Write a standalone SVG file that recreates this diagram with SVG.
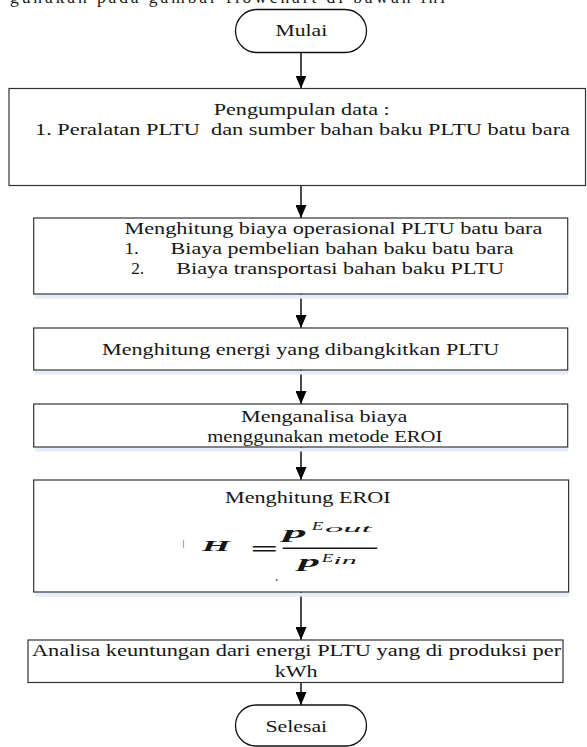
<svg xmlns="http://www.w3.org/2000/svg" width="587" height="747" viewBox="0 0 587 747">
  <defs>
    <marker id="arrow" viewBox="0 0 13 11" refX="13" refY="5.5" markerWidth="13" markerHeight="11" markerUnits="userSpaceOnUse" orient="auto">
      <path d="M0,0 L13,5.5 L0,11 z" fill="#000"/>
    </marker>
    <style>
      .box { fill: #fff; stroke: #333; stroke-width: 1.2; }
      .shadow { fill: #e4edf7; }
      .term { fill: #fff; stroke: #111; stroke-width: 1.3; }
      .t { font-family: "Liberation Serif", "Times New Roman", serif; font-size: 17.5px; fill: #161616; white-space: pre; }
      .m { font-family: "Liberation Serif", "Times New Roman", serif; font-style: italic; fill: #161616; }
      .conn { stroke: #000; stroke-width: 1.4; fill: none; marker-end: url(#arrow); }
    </style>
  </defs>
  <rect width="587" height="747" fill="#fff"/>

  <text class="t" x="10" y="3" font-size="20" fill="#333" textLength="435" lengthAdjust="spacing">gunakan pada gambar flowchart di bawah ini</text>

  <g id="connectors">
    <line class="conn" x1="301" y1="52.5" x2="301" y2="88.5"/>
    <line class="conn" x1="301" y1="185.5" x2="301" y2="218"/>
    <line class="conn" x1="301" y1="294" x2="301" y2="328"/>
    <line class="conn" x1="301" y1="370" x2="301" y2="404"/>
    <line class="conn" x1="301" y1="447" x2="301" y2="480"/>
    <line class="conn" x1="301" y1="592" x2="301" y2="640"/>
    <line class="conn" x1="301" y1="682.5" x2="301" y2="705"/>
  </g>

  <g id="mulai">
    <rect class="term" x="235.5" y="9.5" width="131" height="43" rx="21.5"/>
    <text class="t" x="301.4" y="36" text-anchor="middle" textLength="51.7" lengthAdjust="spacingAndGlyphs">Mulai</text>
  </g>

  <g id="pengumpulan-data">
    <rect class="box" x="9" y="88.5" width="576.5" height="97"/>
    <text class="t" x="301.7" y="115" text-anchor="middle" textLength="176" lengthAdjust="spacingAndGlyphs">Pengumpulan data :</text>
    <text class="t" x="302.5" y="135" text-anchor="middle" textLength="535" lengthAdjust="spacingAndGlyphs">1. Peralatan PLTU  dan sumber bahan baku PLTU batu bara</text>
  </g>

  <g id="biaya-operasional">
    <rect class="shadow" x="35" y="294.6" width="533" height="4"/>
    <rect class="box" x="33.7" y="218" width="534" height="76"/>
    <text class="t" x="124.4" y="234" textLength="418" lengthAdjust="spacingAndGlyphs">Menghitung biaya operasional PLTU batu bara</text>
    <text class="t" x="124.4" y="254" textLength="14.3" lengthAdjust="spacingAndGlyphs">1.</text>
    <text class="t" x="170.5" y="254" textLength="343" lengthAdjust="spacingAndGlyphs">Biaya pembelian bahan baku batu bara</text>
    <text class="t" x="131.2" y="274" textLength="13" lengthAdjust="spacingAndGlyphs">2.</text>
    <text class="t" x="176.2" y="274" textLength="328" lengthAdjust="spacingAndGlyphs">Biaya transportasi bahan baku PLTU</text>
  </g>

  <g id="energi">
    <rect class="shadow" x="35" y="370.6" width="533" height="4"/>
    <rect class="box" x="33.7" y="328" width="534" height="42"/>
    <text class="t" x="102" y="354.5" textLength="397.3" lengthAdjust="spacingAndGlyphs">Menghitung energi yang dibangkitkan PLTU</text>
  </g>

  <g id="analisa-biaya">
    <rect class="shadow" x="35" y="447.6" width="533" height="4"/>
    <rect class="box" x="33.7" y="404" width="534" height="43"/>
    <text class="t" x="241" y="422" textLength="166.4" lengthAdjust="spacingAndGlyphs">Menganalisa biaya</text>
    <text class="t" x="207.3" y="441.5" textLength="235" lengthAdjust="spacingAndGlyphs">menggunakan metode EROI</text>
  </g>

  <g id="hitung-eroi">
    <rect class="shadow" x="35" y="592.6" width="534" height="4"/>
    <rect class="box" x="33.7" y="480" width="534.9" height="112"/>
    <text class="t" x="225" y="503.3" textLength="165.6" lengthAdjust="spacingAndGlyphs">Menghitung EROI</text>
    <line x1="183.5" y1="540" x2="183.5" y2="548" stroke="#aaa" stroke-width="1.2"/>
    <text class="m" x="201.7" y="550.5" font-size="15" font-weight="bold" textLength="28.3" lengthAdjust="spacingAndGlyphs">H</text>
    <text class="m" x="250" y="556" font-size="22" font-style="normal" font-weight="bold" textLength="28" lengthAdjust="spacingAndGlyphs">=</text>
    <text class="m" x="283" y="537.5" font-size="17" font-weight="bold" textLength="23.7" lengthAdjust="spacingAndGlyphs">p</text>
    <text class="m" x="311.7" y="530" font-size="12.5" textLength="11.6" lengthAdjust="spacingAndGlyphs">E</text>
    <text class="m" x="325" y="531.5" font-size="10" textLength="46.7" lengthAdjust="spacingAndGlyphs">out</text>
    <line x1="282.7" y1="548.3" x2="377.3" y2="548.3" stroke="#161616" stroke-width="1.4"/>
    <text class="m" x="298.3" y="567" font-size="17" font-weight="bold" textLength="21.7" lengthAdjust="spacingAndGlyphs">p</text>
    <text class="m" x="321.7" y="561.7" font-size="12.5" textLength="11.6" lengthAdjust="spacingAndGlyphs">E</text>
    <text class="m" x="333.3" y="564" font-size="10" textLength="23.4" lengthAdjust="spacingAndGlyphs">in</text>
    <circle cx="276.7" cy="580" r="0.9" fill="#555"/>
  </g>

  <g id="analisa-keuntungan">
    <rect class="box" x="28" y="640" width="535" height="42.5"/>
    <text class="t" x="31.9" y="656" textLength="529.2" lengthAdjust="spacingAndGlyphs">Analisa keuntungan dari energi PLTU yang di produksi per</text>
    <text class="t" x="274.7" y="677" textLength="42.8" lengthAdjust="spacingAndGlyphs">kWh</text>
  </g>

  <g id="selesai">
    <rect class="term" x="235.5" y="705" width="131" height="41" rx="20.5"/>
    <text class="t" x="265.4" y="732" textLength="61.8" lengthAdjust="spacingAndGlyphs">Selesai</text>
  </g>
</svg>
